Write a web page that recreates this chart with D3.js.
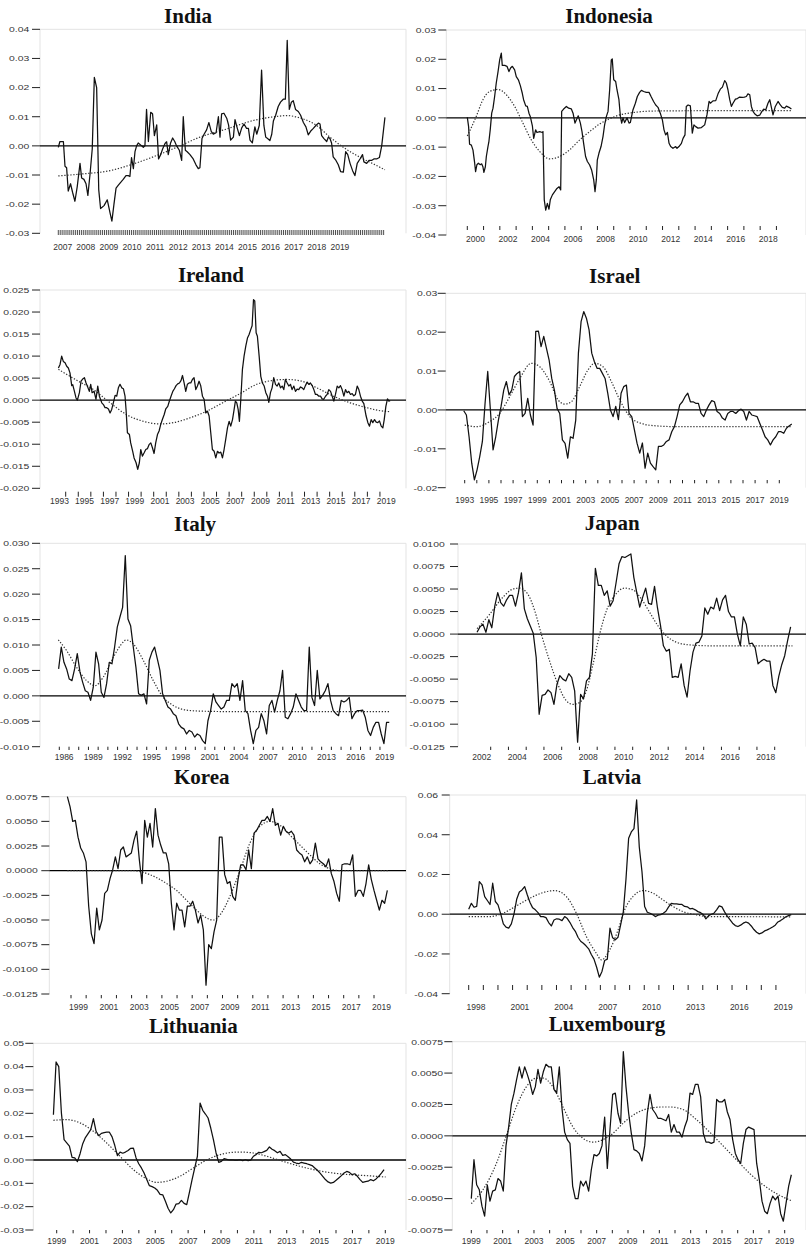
<!DOCTYPE html>
<html>
<head>
<meta charset="utf-8">
<script src="https://cdn.jsdelivr.net/npm/d3@7"></script>
<style>
  html, body { margin: 0; padding: 0; background: #fff; }
  svg { display: block; }
</style>
</head>
<body>
<svg id="chart" width="806" height="1249"></svg>
<script>
// ---------------- India (pairs: year, value) ----------------
const indiaSeries = [[2007.00,-0.0005],[2007.07,0.0015],[2007.22,0.0015],[2007.29,-0.007],[2007.36,-0.0075],[2007.43,-0.0155],[2007.53,-0.013],[2007.62,-0.016],[2007.72,-0.019],[2007.82,-0.014],[2007.94,-0.006],[2008.01,-0.011],[2008.11,-0.0115],[2008.20,-0.013],[2008.28,-0.017],[2008.37,-0.01],[2008.47,-0.001],[2008.56,0.0235],[2008.66,0.020],[2008.75,-0.015],[2008.83,-0.0215],[2008.98,-0.0205],[2009.12,-0.0185],[2009.24,-0.023],[2009.32,-0.0258],[2009.41,-0.02],[2009.50,-0.0145],[2009.60,-0.0135],[2009.70,-0.0125],[2009.81,-0.0115],[2009.93,-0.0102],[2010.03,-0.0102],[2010.10,-0.0105],[2010.17,-0.004],[2010.25,-0.0078],[2010.32,-0.002],[2010.39,0.0],[2010.46,0.001],[2010.61,0.0],[2010.68,-0.0005],[2010.75,0.0],[2010.82,0.0125],[2010.90,0.0015],[2011.00,0.0115],[2011.08,0.011],[2011.16,0.0035],[2011.26,0.0072],[2011.34,-0.0045],[2011.43,-0.003],[2011.52,-0.001],[2011.62,0.0008],[2011.69,0.0014],[2011.76,-0.003],[2011.86,0.001],[2011.95,0.0027],[2012.04,0.0015],[2012.12,0.0],[2012.24,-0.0015],[2012.34,-0.005],[2012.41,0.010],[2012.50,-0.0015],[2012.58,-0.002],[2012.70,-0.003],[2012.84,-0.0045],[2012.96,-0.0065],[2013.06,-0.0078],[2013.13,-0.0075],[2013.22,0.0025],[2013.31,0.004],[2013.42,0.0055],[2013.52,0.008],[2013.62,0.005],[2013.71,0.004],[2013.83,0.0045],[2013.93,0.010],[2014.00,0.003],[2014.07,0.011],[2014.17,0.0112],[2014.29,0.0095],[2014.37,0.0072],[2014.46,0.002],[2014.58,0.003],[2014.65,0.009],[2014.75,0.006],[2014.84,0.0035],[2014.94,0.0062],[2015.04,0.0075],[2015.15,0.006],[2015.23,0.006],[2015.30,0.002],[2015.40,0.001],[2015.51,0.0065],[2015.59,0.004],[2015.70,0.007],[2015.80,0.026],[2015.90,0.007],[2015.98,0.003],[2016.06,0.0025],[2016.16,0.0018],[2016.24,0.004],[2016.31,0.0085],[2016.41,0.0105],[2016.52,0.0135],[2016.62,0.015],[2016.74,0.016],[2016.83,0.016],[2016.91,0.0362],[2017.00,0.0125],[2017.09,0.015],[2017.17,0.0155],[2017.27,0.0125],[2017.39,0.0118],[2017.49,0.0105],[2017.61,0.008],[2017.72,0.0065],[2017.82,0.0038],[2017.92,0.005],[2018.04,0.006],[2018.15,0.007],[2018.26,0.0078],[2018.33,0.0075],[2018.40,0.0035],[2018.50,0.0025],[2018.62,0.0015],[2018.69,0.003],[2018.76,0.0025],[2018.83,0.001],[2018.90,-0.0038],[2019.02,-0.005],[2019.12,-0.0065],[2019.22,-0.0088],[2019.34,-0.009],[2019.44,-0.002],[2019.53,-0.003],[2019.63,-0.006],[2019.74,-0.0085],[2019.84,-0.0102],[2019.94,-0.006],[2020.06,-0.0045],[2020.17,-0.003],[2020.23,-0.0055],[2020.35,-0.006],[2020.45,-0.005],[2020.56,-0.005],[2020.66,-0.0045],[2020.78,-0.0045],[2020.90,-0.004],[2021.00,0.0],[2021.14,0.0098]];
const indiaTrend = [[2007.00,-0.0103],[2008.08,-0.0096],[2009.24,-0.0085],[2010.25,-0.0062],[2011.26,-0.0033],[2012.12,-0.0005],[2013.13,0.003],[2014.29,0.0058],[2015.44,0.0087],[2016.45,0.0101],[2016.88,0.0104],[2017.46,0.0096],[2018.18,0.007],[2018.76,0.003],[2019.34,-0.0005],[2020.06,-0.0039],[2020.64,-0.0062],[2021.14,-0.0082]];
const indiaYTicks = [0.04, 0.03, 0.02, 0.01, 0.00, -0.01, -0.02, -0.03];
const indiaLabels = ["2007","2008","2009","2010","2011","2012","2013","2014","2015","2016","2017","2018","2019"];

// ---------------- Indonesia ----------------
const indonesiaSeries = [[2000.00,0.0002],[2000.08,-0.003],[2000.14,-0.009],[2000.25,-0.0093],[2000.35,-0.011],[2000.45,-0.0153],[2000.51,-0.0184],[2000.59,-0.016],[2000.68,-0.0155],[2000.80,-0.016],[2000.88,-0.0157],[2000.96,-0.0167],[2001.02,-0.0186],[2001.11,-0.0167],[2001.17,-0.0132],[2001.27,-0.0098],[2001.33,-0.008],[2001.41,-0.004],[2001.50,0.0016],[2001.58,0.0033],[2001.68,0.0073],[2001.78,0.0119],[2001.89,0.0158],[2001.99,0.0198],[2002.09,0.0221],[2002.15,0.0179],[2002.30,0.0179],[2002.44,0.0176],[2002.56,0.0158],[2002.66,0.017],[2002.77,0.0176],[2002.91,0.0164],[2003.01,0.0141],[2003.14,0.013],[2003.26,0.011],[2003.38,0.0084],[2003.46,0.0062],[2003.59,0.0041],[2003.69,0.0039],[2003.79,0.0016],[2003.87,0.0005],[2004.00,-0.0027],[2004.08,-0.007],[2004.20,-0.0041],[2004.28,-0.005],[2004.45,-0.0047],[2004.61,-0.005],[2004.65,-0.0047],[2004.73,-0.028],[2004.82,-0.0315],[2004.92,-0.0292],[2005.02,-0.0312],[2005.10,-0.028],[2005.23,-0.0263],[2005.37,-0.0252],[2005.51,-0.0241],[2005.64,-0.0235],[2005.74,-0.0246],[2005.80,0.0022],[2005.92,0.003],[2006.09,0.0039],[2006.23,0.0033],[2006.39,0.0031],[2006.50,0.0016],[2006.62,-0.0018],[2006.70,-0.0007],[2006.82,0.0007],[2006.95,-0.0018],[2007.05,-0.0047],[2007.15,-0.0087],[2007.27,-0.0132],[2007.38,-0.0149],[2007.52,-0.0161],[2007.64,-0.0178],[2007.77,-0.0212],[2007.85,-0.0252],[2007.93,-0.0212],[2007.99,-0.0144],[2008.09,-0.0121],[2008.22,-0.0098],[2008.34,-0.0064],[2008.44,-0.0024],[2008.55,0.0005],[2008.65,0.0022],[2008.75,0.0096],[2008.85,0.0198],[2008.91,0.0201],[2009.00,0.013],[2009.12,0.0124],[2009.20,0.0096],[2009.32,0.0062],[2009.41,0.0005],[2009.49,-0.0018],[2009.57,0.0],[2009.67,-0.0016],[2009.82,0.0],[2009.94,-0.0018],[2010.02,-0.0016],[2010.18,0.0027],[2010.33,0.005],[2010.45,0.0073],[2010.59,0.0087],[2010.70,0.0094],[2010.84,0.009],[2011.00,0.0087],[2011.17,0.0087],[2011.31,0.0071],[2011.45,0.0056],[2011.58,0.0044],[2011.72,0.0036],[2011.86,0.0016],[2011.99,-0.0007],[2012.09,-0.0041],[2012.19,-0.0058],[2012.30,-0.005],[2012.40,-0.0087],[2012.50,-0.0098],[2012.64,-0.0104],[2012.81,-0.0098],[2012.89,-0.0104],[2013.01,-0.0098],[2013.16,-0.0087],[2013.26,-0.007],[2013.38,-0.0058],[2013.46,0.0039],[2013.57,0.0044],[2013.71,0.0041],[2013.83,-0.0052],[2013.93,-0.0024],[2014.04,-0.003],[2014.18,-0.0035],[2014.39,-0.0033],[2014.59,-0.0024],[2014.73,0.001],[2014.86,0.0056],[2014.94,0.005],[2015.10,0.0058],[2015.27,0.0059],[2015.41,0.0082],[2015.55,0.0098],[2015.68,0.0105],[2015.82,0.0127],[2015.92,0.0119],[2016.02,0.0096],[2016.13,0.0062],[2016.23,0.0039],[2016.33,0.005],[2016.48,0.0064],[2016.60,0.0066],[2016.74,0.0071],[2016.89,0.007],[2017.03,0.0071],[2017.15,0.0073],[2017.25,0.0082],[2017.36,0.0079],[2017.46,0.0039],[2017.56,0.0022],[2017.66,0.0014],[2017.81,0.0007],[2017.97,0.0009],[2018.11,0.0022],[2018.22,0.003],[2018.34,0.0027],[2018.48,0.005],[2018.59,0.0062],[2018.69,0.0036],[2018.79,0.001],[2018.93,0.0039],[2019.10,0.0056],[2019.24,0.0044],[2019.36,0.0036],[2019.51,0.0033],[2019.61,0.004],[2019.77,0.0036],[2019.92,0.003]];
const indonesiaTrend = [[2000.00,-0.0062],[2000.55,0.0005],[2000.96,0.0062],[2001.37,0.009],[2001.89,0.0097],[2002.40,0.0079],[2002.91,0.0039],[2003.42,-0.0018],[2003.93,-0.0075],[2004.45,-0.0115],[2005.06,-0.014],[2005.68,-0.0132],[2006.29,-0.0109],[2006.91,-0.0075],[2007.52,-0.0047],[2008.14,-0.0021],[2008.75,-0.0003],[2009.36,0.001],[2010.18,0.0018],[2011.21,0.0023],[2012.44,0.0024],[2019.92,0.0025]];
const indonesiaYTicks = [0.03, 0.02, 0.01, 0.00, -0.01, -0.02, -0.03, -0.04];
const indonesiaLabels = ["2000","2002","2004","2006","2008","2010","2012","2014","2016","2018"];

// ---------------- Ireland ----------------
const irelandSeries = [[1992.42,0.0073],[1992.55,0.0081],[1992.68,0.0100],[1992.81,0.0088],[1992.95,0.0085],[1993.08,0.0077],[1993.21,0.0073],[1993.34,0.0062],[1993.48,0.0033],[1993.56,0.0035],[1993.66,0.0024],[1993.82,0.0005],[1993.93,0.0],[1994.09,0.0017],[1994.22,0.0043],[1994.35,0.0048],[1994.49,0.0051],[1994.62,0.0039],[1994.72,0.0032],[1994.88,0.002],[1994.99,0.0036],[1995.10,0.0017],[1995.26,0.002],[1995.41,0.0002],[1995.55,0.0032],[1995.68,0.0009],[1995.87,-0.0006],[1996.00,-0.001],[1996.13,-0.0017],[1996.26,-0.0017],[1996.40,-0.002],[1996.53,-0.0029],[1996.66,-0.0021],[1996.79,-0.0006],[1996.93,0.0011],[1997.06,0.0009],[1997.19,0.0028],[1997.32,0.0036],[1997.46,0.0028],[1997.59,0.0026],[1997.72,0.0009],[1997.80,-0.0021],[1997.91,-0.0074],[1998.07,-0.0078],[1998.17,-0.0097],[1998.33,-0.0116],[1998.44,-0.0131],[1998.60,-0.0142],[1998.73,-0.0157],[1998.86,-0.0142],[1998.97,-0.0112],[1999.10,-0.0127],[1999.23,-0.012],[1999.37,-0.0112],[1999.50,-0.011],[1999.63,-0.0101],[1999.77,-0.0097],[1999.90,-0.0108],[2000.03,-0.0121],[2000.16,-0.0097],[2000.30,-0.0078],[2000.43,-0.007],[2000.56,-0.0055],[2000.69,-0.0044],[2000.83,-0.0033],[2000.96,-0.002],[2001.12,-0.0014],[2001.25,-0.0002],[2001.38,0.0009],[2001.52,0.002],[2001.65,0.0026],[2001.78,0.0033],[2001.91,0.0037],[2002.05,0.0039],[2002.18,0.0045],[2002.29,0.0056],[2002.42,0.0039],[2002.55,0.002],[2002.68,0.0036],[2002.82,0.0039],[2002.95,0.0039],[2003.08,0.0047],[2003.21,0.0051],[2003.35,0.0024],[2003.48,0.0032],[2003.61,0.0043],[2003.74,0.0033],[2003.88,0.0009],[2004.01,0.0002],[2004.14,-0.0029],[2004.28,-0.0025],[2004.41,-0.0036],[2004.54,-0.0074],[2004.67,-0.0112],[2004.81,-0.0116],[2004.94,-0.0131],[2005.07,-0.0116],[2005.20,-0.012],[2005.34,-0.0118],[2005.47,-0.0131],[2005.60,-0.0112],[2005.73,-0.0089],[2005.87,-0.0063],[2006.00,-0.0048],[2006.13,-0.0059],[2006.27,-0.0044],[2006.40,-0.0021],[2006.50,-0.0002],[2006.61,-0.0006],[2006.72,-0.0021],[2006.82,-0.0048],[2006.93,0.0002],[2007.06,0.007],[2007.19,0.01],[2007.33,0.0123],[2007.46,0.0141],[2007.59,0.0149],[2007.72,0.016],[2007.83,0.0169],[2007.94,0.0228],[2008.04,0.0225],[2008.15,0.0153],[2008.25,0.0145],[2008.39,0.01],[2008.52,0.0054],[2008.65,0.0039],[2008.79,0.0032],[2008.92,0.0017],[2009.05,0.0009],[2009.16,-0.0005],[2009.29,0.0017],[2009.42,0.0028],[2009.55,0.0051],[2009.69,0.0036],[2009.82,0.0032],[2009.95,0.0039],[2010.09,0.0028],[2010.22,0.0032],[2010.35,0.0024],[2010.48,0.0047],[2010.62,0.0039],[2010.75,0.0032],[2010.88,0.0036],[2011.01,0.0024],[2011.15,0.0032],[2011.28,0.002],[2011.41,0.0025],[2011.54,0.0024],[2011.68,0.003],[2011.81,0.0028],[2011.94,0.0024],[2012.07,0.0033],[2012.21,0.0041],[2012.34,0.0036],[2012.47,0.0039],[2012.61,0.0033],[2012.74,0.0024],[2012.87,0.0013],[2013.00,0.0013],[2013.14,0.0009],[2013.27,0.0009],[2013.40,0.0003],[2013.53,0.0002],[2013.67,0.0009],[2013.80,0.0013],[2013.93,0.0024],[2014.07,0.002],[2014.20,0.0009],[2014.33,-0.0002],[2014.46,0.0013],[2014.60,0.0032],[2014.73,0.0028],[2014.86,0.0033],[2014.99,0.0024],[2015.13,0.0009],[2015.26,0.0024],[2015.39,0.0017],[2015.52,0.002],[2015.66,0.0013],[2015.79,0.0015],[2015.92,0.001],[2016.05,0.0013],[2016.19,0.0032],[2016.32,0.0024],[2016.45,0.0009],[2016.59,-0.0002],[2016.72,-0.0008],[2016.80,-0.0021],[2016.90,-0.0036],[2017.04,-0.0051],[2017.17,-0.0059],[2017.30,-0.0044],[2017.43,-0.0051],[2017.57,-0.0044],[2017.70,-0.005],[2017.83,-0.0051],[2017.96,-0.0047],[2018.10,-0.0059],[2018.23,-0.0063],[2018.34,-0.0044],[2018.47,-0.0014],[2018.60,0.0003],[2018.71,-0.0002],[2018.81,-0.0001]];
const irelandTrend = [[1992.42,0.007],[1993.88,0.0045],[1995.20,0.0024],[1996.53,-0.0006],[1997.85,-0.0033],[1999.18,-0.0048],[2000.51,-0.0054],[2001.57,-0.0051],[2002.90,-0.004],[2004.22,-0.0025],[2005.55,-0.0005],[2006.88,0.0015],[2008.20,0.0036],[2009.53,0.0045],[2010.59,0.0047],[2011.65,0.0044],[2012.98,0.0028],[2014.30,0.0009],[2015.63,-0.0006],[2016.96,-0.0017],[2018.02,-0.0024],[2018.81,-0.0026]];
const irelandYTicks = [0.025, 0.020, 0.015, 0.010, 0.005, 0.000, -0.005, -0.010, -0.015, -0.020];
const irelandLabels = ["1993","1995","1997","1999","2001","2003","2005","2007","2009","2011","2013","2015","2017","2019"];

// ---------------- Israel (regular sampling) ----------------
const israelStart = 1992.92, israelStep = 0.2204;
const israelValues = [-0.0002,-0.0013,-0.0069,-0.0137,-0.018,-0.0154,-0.012,-0.0081,0.0017,0.0099,0.0,-0.0103,-0.0069,-0.0026,0.0009,0.0051,0.0073,0.0039,0.0051,0.0086,0.0094,0.0099,-0.0017,-0.0009,0.003,-0.0013,-0.0039,0.0202,0.0203,0.0163,0.0189,0.0159,0.0129,0.0081,0.0051,0.0004,-0.0009,-0.0077,-0.0086,-0.0124,-0.0069,-0.0073,-0.0026,0.0146,0.0227,0.0253,0.0236,0.0206,0.0146,0.0124,0.0107,0.0107,0.0094,0.0081,0.0043,0.0,-0.0017,0.0009,-0.0025,0.0043,0.006,0.0064,-0.0009,-0.0017,-0.0051,-0.0086,-0.0111,-0.0085,-0.015,-0.0111,-0.0137,-0.0146,-0.0154,-0.0094,-0.0094,-0.009,-0.0081,-0.0077,-0.0056,-0.0043,-0.0017,0.0013,0.0021,0.0034,0.0043,0.0021,0.0021,0.0017,0.0017,-0.0009,-0.0017,0.0,0.0013,0.0024,0.0021,-0.0004,-0.0009,-0.0021,-0.0026,-0.0009,-0.0004,-0.0004,-0.0009,-0.0002,0.0002,-0.0004,-0.0026,-0.0004,-0.0013,-0.0015,-0.0017,-0.0034,-0.0051,-0.0069,-0.0077,-0.009,-0.0077,-0.0069,-0.0056,-0.0056,-0.006,-0.0047,-0.0041,-0.0036];
const israelTrend = [[1993.00,-0.0039],[1993.96,-0.0043],[1995.07,-0.003],[1995.89,-0.0009],[1996.72,0.0034],[1997.55,0.0081],[1998.51,0.012],[1999.20,0.0111],[2000.03,0.0073],[2000.71,0.0026],[2001.27,0.0015],[2001.82,0.0021],[2002.50,0.006],[2003.19,0.0103],[2003.74,0.012],[2004.43,0.0111],[2005.12,0.0073],[2005.81,0.0026],[2006.64,-0.0017],[2007.74,-0.0036],[2008.84,-0.0041],[2010.49,-0.0043],[2020.00,-0.0043]];
const israelYTicks = [0.03, 0.02, 0.01, 0.00, -0.01, -0.02];
const israelLabels = ["1993","1995","1997","1999","2001","2003","2005","2007","2009","2011","2013","2015","2017","2019"];

// ---------------- Italy (regular sampling) ----------------
const italyStart = 1985.93, italyStep = 0.2744;
const italyValues = [0.0053,0.0096,0.0066,0.0053,0.0033,0.003,0.0053,0.0083,0.0047,0.0027,0.001,0.0007,-0.0009,0.0017,0.0086,0.0063,0.0007,-0.0003,0.0024,0.0066,0.0063,0.0096,0.0135,0.0155,0.0174,0.0276,0.0151,0.0138,0.0096,0.0056,0.0004,0.0001,0.0004,-0.0016,0.007,0.0086,0.0096,0.0073,0.005,0.0004,-0.0009,-0.0022,-0.0026,-0.0035,-0.0039,-0.0055,-0.0062,-0.0065,-0.0075,-0.0068,-0.0071,-0.0081,-0.0075,-0.0078,-0.0088,-0.0094,-0.0049,-0.0029,0.0004,-0.0012,-0.0019,-0.0026,-0.0022,-0.0009,-0.0009,0.0024,0.0017,0.0024,-0.0009,0.003,-0.0029,-0.0035,-0.0068,-0.0094,-0.0068,-0.0062,-0.0035,-0.0049,-0.0075,-0.0019,-0.0009,-0.0032,-0.0009,0.001,0.005,-0.0042,-0.0045,-0.0035,-0.0022,0.0004,-0.0009,-0.0022,-0.0029,-0.0029,0.0096,-0.0003,-0.0019,0.005,-0.0006,0.0001,0.001,0.0024,-0.0009,-0.0029,-0.0035,-0.0039,-0.0009,-0.0012,-0.0009,-0.0003,-0.0045,-0.0035,-0.0029,-0.0029,-0.0028,-0.0042,-0.0068,-0.0078,-0.0062,-0.0052,-0.0052,-0.0075,-0.0094,-0.0052,-0.0052];
const italyTrend = [[1985.90,0.011],[1986.75,0.0089],[1987.78,0.0056],[1988.81,0.003],[1989.67,0.002],[1990.53,0.0037],[1991.56,0.0076],[1992.59,0.0106],[1992.86,0.011],[1993.62,0.0102],[1994.64,0.007],[1995.67,0.003],[1996.70,-0.0003],[1997.73,-0.0019],[1999.10,-0.0028],[2000.47,-0.003],[2003.91,-0.0031],[2019.96,-0.0031]];
const italyYTicks = [0.030, 0.025, 0.020, 0.015, 0.010, 0.005, 0.000, -0.005, -0.010];
const italyLabels = ["1986","1989","1992","1995","1998","2001","2004","2007","2010","2013","2016","2019"];

// ---------------- Japan (regular sampling, two-monthly) ----------------
const japanStart = 2002.23, japanStep = 1 / 6;
const japanValues = [0.0002,0.0008,0.0011,0.0002,0.0016,0.0007,0.0031,0.0046,0.0035,0.0031,0.0038,0.0043,0.0043,0.0031,0.0046,0.0068,0.0028,0.0017,0.0009,0.0001,-0.0026,-0.0089,-0.0068,-0.0067,-0.0062,-0.0065,-0.0078,-0.0056,-0.0046,-0.005,-0.0052,-0.0044,-0.0048,-0.0063,-0.012,-0.0067,-0.0072,-0.0052,-0.0048,-0.0022,0.0073,0.0054,0.0054,0.0043,0.0048,0.0031,0.0037,0.0057,0.0078,0.0086,0.0085,0.0087,0.0089,0.0063,0.0046,0.003,0.0041,0.0051,0.0034,0.0033,0.0053,0.0029,0.001,-0.0013,-0.0019,-0.0017,-0.0048,-0.0047,-0.0048,-0.0033,-0.0057,-0.007,-0.0041,-0.002,-0.001,-0.0009,-0.0002,0.0029,0.0022,0.003,0.0028,0.004,0.0026,0.0038,0.0043,0.0025,0.0019,0.0019,0.0,-0.0013,0.0019,0.0011,-0.0011,-0.001,-0.0015,-0.0033,-0.003,-0.0028,-0.003,-0.003,-0.0057,-0.0065,-0.0047,-0.0034,-0.0024,-0.0007,0.0008];
const japanTrend = [[2002.23,0.0006],[2002.94,0.0022],[2003.69,0.0041],[2004.26,0.005],[2004.63,0.0051],[2005.10,0.0044],[2005.48,0.0026],[2005.85,0.0],[2006.32,-0.003],[2006.79,-0.0056],[2007.26,-0.0074],[2007.64,-0.0078],[2008.01,-0.0076],[2008.39,-0.0063],[2008.77,-0.0033],[2009.14,0.0],[2009.52,0.0026],[2009.99,0.0043],[2010.55,0.0051],[2011.02,0.0049],[2011.49,0.0039],[2011.96,0.0024],[2012.43,0.0009],[2012.90,-0.0002],[2013.46,-0.0009],[2014.21,-0.0012],[2015.34,-0.0013],[2020.00,-0.0013]];
const japanYTicks = [0.0100, 0.0075, 0.0050, 0.0025, 0.0000, -0.0025, -0.0050, -0.0075, -0.0100, -0.0125];
const japanLabels = ["2002","2004","2006","2008","2010","2012","2014","2016","2018"];

// ---------------- Korea (regular sampling) ----------------
const koreaStart = 1998.76, koreaStep = 0.176;
const koreaValues = [0.0075,0.0065,0.005,0.0051,0.0034,0.0023,0.0018,0.0009,-0.0036,-0.0064,-0.0074,-0.0038,-0.006,-0.005,-0.0023,-0.002,-0.0008,0.0001,0.0014,0.0002,0.0021,0.0024,0.0014,0.0016,0.0018,0.0031,0.004,0.0011,-0.0013,0.0051,0.0034,0.0048,0.0024,0.0063,0.0036,0.0026,0.0018,0.0018,0.0007,-0.0033,-0.006,-0.0033,-0.004,-0.004,-0.0057,-0.0036,-0.0036,-0.0031,-0.004,-0.0053,-0.0045,-0.006,-0.0116,-0.0075,-0.0079,-0.0062,-0.005,0.0034,0.0034,-0.0004,-0.0013,-0.0011,-0.0026,-0.003,-0.0009,0.0006,0.0006,0.0001,0.0021,0.0002,0.0038,0.0041,0.0046,0.0051,0.0051,0.0055,0.005,0.0063,0.0046,0.0048,0.0036,0.0045,0.004,0.0038,0.004,0.0036,0.0021,0.0018,0.0016,0.0009,0.0014,0.0007,0.0011,0.0028,0.0012,0.0009,0.0007,0.0004,0.0012,-0.0003,-0.0011,-0.0023,-0.0031,0.0006,0.0007,0.0007,0.0006,0.0016,-0.0026,-0.002,-0.002,-0.0026,-0.0013,0.0006,-0.0009,-0.002,-0.003,-0.004,-0.003,-0.0033,-0.002];
const koreaTrend = [[1998.76,0.0],[2000.91,0.0],[2003.11,0.0],[2004.21,-0.0004],[2005.31,-0.0013],[2005.97,-0.002],[2006.63,-0.003],[2007.29,-0.004],[2007.95,-0.0048],[2008.39,-0.005],[2008.83,-0.0045],[2009.49,-0.0026],[2010.15,0.0],[2010.81,0.0028],[2011.47,0.0045],[2012.13,0.005],[2012.79,0.0046],[2013.45,0.0036],[2014.11,0.0026],[2014.77,0.0016],[2015.43,0.0007],[2016.09,0.0002],[2016.75,0.0],[2019.94,0.0]];
const koreaYTicks = [0.0075, 0.0050, 0.0025, 0.0000, -0.0025, -0.0050, -0.0075, -0.0100, -0.0125];
const koreaLabels = ["1999","2001","2003","2005","2007","2009","2011","2013","2015","2017","2019"];

// ---------------- Latvia (regular sampling) ----------------
const latviaStart = 1998.0, latviaStep = 0.1822;
const latviaValues = [0.0025,0.0055,0.0035,0.0039,0.0164,0.0148,0.0089,0.0069,0.0049,0.0156,0.0064,0.0047,0.0002,-0.0049,-0.0065,-0.007,-0.0049,0.0002,0.0075,0.0112,0.0122,0.0139,0.0097,0.0059,0.0032,0.0022,0.0008,-0.0012,-0.0012,-0.0017,-0.0042,-0.0059,-0.0029,-0.0023,-0.0025,-0.0032,-0.0012,-0.0022,-0.0042,-0.0067,-0.0086,-0.0116,-0.0136,-0.0146,-0.0159,-0.0174,-0.0203,-0.0226,-0.0267,-0.0317,-0.0288,-0.0233,-0.0226,-0.007,-0.0119,-0.0129,-0.0116,-0.0054,0.0012,0.0176,0.0382,0.0414,0.0431,0.0575,0.0337,0.0215,0.0039,0.001,0.0005,-0.0002,-0.0012,-0.0005,-0.0002,0.0005,0.0015,0.0037,0.0054,0.0052,0.0052,0.0049,0.0049,0.0039,0.0037,0.0027,0.0029,0.0022,0.0013,0.0008,-0.0002,-0.0023,-0.0007,0.0,0.0005,0.0022,0.0042,0.0037,0.0012,-0.001,-0.0027,-0.0045,-0.0057,-0.0062,-0.0055,-0.0045,-0.0039,-0.0045,-0.0059,-0.0077,-0.0091,-0.0099,-0.0094,-0.0084,-0.0079,-0.0072,-0.0064,-0.0055,-0.0039,-0.0032,-0.0023,-0.0013,-0.0007,-0.0002];
const latviaTrend = [[1998.00,-0.0012],[1999.44,-0.0012],[2000.35,0.0005],[2001.26,0.0042],[2002.17,0.008],[2003.08,0.0109],[2003.88,0.0119],[2004.67,0.0089],[2005.36,0.0005],[2006.04,-0.0112],[2006.72,-0.0196],[2007.07,-0.023],[2007.64,-0.0179],[2008.21,-0.0079],[2008.66,0.0022],[2009.23,0.0089],[2009.91,0.0119],[2010.60,0.0106],[2011.28,0.0072],[2011.96,0.0039],[2012.65,0.0013],[2013.56,-0.0003],[2014.47,-0.0012],[2020.05,-0.0013]];
const latviaYTicks = [0.06, 0.04, 0.02, 0.00, -0.02, -0.04];
const latviaLabels = ["1998","2001","2004","2007","2010","2013","2016","2019"];

// ---------------- Lithuania (regular sampling) ----------------
const lithuaniaStart = 1998.80, lithuaniaStep = 0.1623;
const lithuaniaValues = [0.0194,0.042,0.040,0.0201,0.0087,0.0073,0.0059,0.0011,0.0009,-0.0007,0.0027,0.007,0.0096,0.0113,0.013,0.0177,0.0123,0.0104,0.0114,0.0117,0.0119,0.0119,0.0099,0.0063,0.0019,0.0034,0.0029,0.0034,0.0041,0.005,0.0051,0.0009,-0.0016,-0.0034,-0.0056,-0.0084,-0.011,-0.0114,-0.012,-0.013,-0.0147,-0.0149,-0.0177,-0.0207,-0.0227,-0.0213,-0.0189,-0.0187,-0.0173,-0.0186,-0.0191,-0.0139,-0.0084,-0.0034,0.0016,0.0244,0.0213,0.0197,0.018,0.0137,0.0087,0.003,-0.001,-0.0006,0.0006,0.0003,0.0,0.0001,-0.0001,-0.0001,0.0001,-0.0003,0.0001,-0.0003,-0.0001,0.0016,0.0023,0.0033,0.0031,0.0036,0.0041,0.0056,0.0046,0.004,0.0031,0.0037,0.002,0.0023,0.0014,0.0004,-0.0009,-0.0013,-0.0016,-0.001,-0.0013,-0.0016,-0.002,-0.0024,-0.0034,-0.0044,-0.0056,-0.007,-0.0084,-0.0094,-0.0099,-0.0096,-0.0087,-0.0077,-0.0067,-0.0056,-0.0049,-0.0053,-0.0063,-0.0059,-0.007,-0.0084,-0.0096,-0.0093,-0.0091,-0.0084,-0.0089,-0.0081,-0.007,-0.0056,-0.0041];
const lithuaniaTrend = [[1998.80,0.017],[1999.61,0.0173],[2000.42,0.0159],[2001.23,0.0123],[2002.04,0.0073],[2002.85,0.0016],[2003.66,-0.0041],[2004.48,-0.0081],[2005.09,-0.0096],[2005.69,-0.0091],[2006.50,-0.007],[2007.32,-0.0034],[2008.13,0.0],[2008.94,0.0023],[2009.75,0.0033],[2010.15,0.0034],[2010.97,0.003],[2011.78,0.0016],[2012.79,-0.0006],[2013.80,-0.0027],[2014.82,-0.0044],[2015.83,-0.0056],[2016.85,-0.0063],[2017.86,-0.0067],[2019.02,-0.0073]];
const lithuaniaYTicks = [0.05, 0.04, 0.03, 0.02, 0.01, 0.00, -0.01, -0.02, -0.03];
const lithuaniaLabels = ["1999","2001","2003","2005","2007","2009","2011","2013","2015","2017","2019"];

// ---------------- Luxembourg (regular sampling) ----------------
const luxembourgStart = 1999.0, luxembourgStep = 0.1702;
const luxembourgValues = [-0.005,-0.0019,-0.0039,-0.0043,-0.0056,-0.0064,-0.0039,-0.0052,-0.0044,-0.0043,-0.0034,-0.0036,-0.0044,-0.0008,0.0007,0.0025,0.0034,0.0045,0.0055,0.0046,0.0055,0.0049,0.0042,0.0033,0.0039,0.0053,0.0042,0.0051,0.0057,0.0055,0.0055,0.0037,0.0034,0.0055,0.0022,0.0003,-0.0003,-0.0006,-0.004,-0.005,-0.005,-0.0036,-0.004,-0.0036,-0.0044,-0.0027,-0.0015,-0.0016,-0.0014,-0.0008,0.0015,-0.0026,0.0005,0.0033,0.0034,0.0018,0.001,0.0067,0.0039,0.0018,0.0002,-0.0011,-0.0012,-0.0014,-0.002,-0.0008,0.0018,0.0033,0.0021,0.0018,0.0014,0.0014,0.0013,0.0012,0.0017,0.0003,0.0009,0.0003,0.0003,-0.0001,0.0007,0.0013,0.0034,0.0033,0.0041,0.0041,0.0031,0.0002,-0.0005,-0.0005,-0.0006,-0.0005,0.0029,0.0027,0.0027,0.0029,0.0019,0.0013,-0.0003,-0.0014,-0.0019,-0.0022,-0.0006,0.0005,0.0007,0.0006,0.0005,-0.0022,-0.0035,-0.0052,-0.006,-0.0062,-0.0054,-0.0048,-0.0051,-0.0048,-0.0062,-0.0068,-0.0054,-0.004,-0.0031];
const luxembourgTrend = [[1999.00,-0.0054],[1999.74,-0.0043],[2000.60,-0.0022],[2001.23,0.0],[2001.87,0.0023],[2002.51,0.0039],[2003.15,0.0046],[2003.57,0.0046],[2004.21,0.0039],[2004.85,0.0023],[2005.49,0.0007],[2006.13,-0.0002],[2006.77,-0.0005],[2007.41,-0.0003],[2008.04,0.0002],[2008.68,0.001],[2009.53,0.0018],[2010.38,0.0022],[2011.24,0.0023],[2011.66,0.0023],[2012.51,0.0021],[2013.36,0.0013],[2014.21,0.0003],[2015.07,-0.0008],[2015.92,-0.0019],[2016.77,-0.003],[2017.62,-0.0039],[2018.47,-0.0046],[2019.49,-0.0052]];
const luxembourgYTicks = [0.0075, 0.0050, 0.0025, 0.0000, -0.0025, -0.0050, -0.0075];
const luxembourgLabels = ["1999","2001","2003","2005","2007","2009","2011","2013","2015","2017","2019"];

// Turn a regularly sampled series into (year, value) pairs.
const regular = (start, step, values) => values.map((v, i) => [start + i * step, v]);

// ---------------- panel layout ----------------
const panels = [
  { title: "India", series: indiaSeries, trend: indiaTrend, yTicks: indiaYTicks, digits: 2, labels: indiaLabels,
    titleX: 188, titleY: 23, left: 40, right: 406, yTop: 29.3, yBot: 233.3, tA: 2007, xA: 58.3, ppy: 23.1,
    ticks: d3.range(0, 170).map(m => 2007 + m / 12), tickY: [230, 235], tickW: 0.8, labelY: 250, labelShift: 0.19, gap: 10.7 },
  { title: "Indonesia", series: indonesiaSeries, trend: indonesiaTrend, yTicks: indonesiaYTicks, digits: 2, labels: indonesiaLabels,
    titleX: 609, titleY: 23, left: 446.3, right: 806, yTop: 30, yBot: 235, tA: 2000, xA: 467.3, ppy: 16.27,
    ticks: d3.range(2000, 2020), tickY: [226, 230], labelY: 242, labelShift: 0.5, gap: 10.3 },
  { title: "Ireland", series: irelandSeries, trend: irelandTrend, yTicks: irelandYTicks, digits: 3, labels: irelandLabels,
    titleX: 211, titleY: 282, left: 40, right: 406, yTop: 290, yBot: 488.3, tA: 1993, xA: 65.7, ppy: 12.57,
    ticks: d3.range(1993, 2019), tickY: [491.7, 496.7], labelY: 504, labelShift: -0.5, gap: 10.7 },
  { title: "Israel", series: regular(israelStart, israelStep, israelValues), trend: israelTrend, yTicks: israelYTicks, digits: 2, labels: israelLabels,
    titleX: 614.7, titleY: 283, left: 445.7, right: 806, yTop: 293.3, yBot: 487.7, tA: 1993, xA: 464.7, ppy: 12.1,
    ticks: d3.range(1993, 2020), tickY: [480, 483.3], labelY: 503, labelShift: 0, gap: 8.4 },
  { title: "Italy", series: regular(italyStart, italyStep, italyValues), trend: italyTrend, yTicks: italyYTicks, digits: 3, labels: italyLabels,
    titleX: 195, titleY: 531, left: 40, right: 406, yTop: 543.3, yBot: 746.7, tA: 1986, xA: 59.3, ppy: 9.717,
    ticks: d3.range(1986, 2020), tickY: [746.7, 750], labelY: 760, labelShift: 0.5, gap: 10.7 },
  { title: "Japan", series: regular(japanStart, japanStep, japanValues), trend: japanTrend, yTicks: japanYTicks, digits: 4, labels: japanLabels,
    titleX: 612.3, titleY: 529.5, left: 458, right: 806, yTop: 544, yBot: 746.7, tA: 2003, xA: 490.7, ppy: 17.75,
    ticks: d3.range(2003, 2020), tickY: [746.7, 750], labelY: 760, labelShift: 0.5, gap: 13.3 },
  { title: "Korea", series: regular(koreaStart, koreaStep, koreaValues), trend: koreaTrend, yTicks: koreaYTicks, digits: 4, labels: koreaLabels,
    titleX: 201.7, titleY: 784, left: 49.3, right: 406, yTop: 796.7, yBot: 994, tA: 1999, xA: 71, ppy: 15.15,
    ticks: d3.range(1999, 2020), tickY: [995, 998.3], labelY: 1010, labelShift: 0.5, gap: 11.6 },
  { title: "Latvia", series: regular(latviaStart, latviaStep, latviaValues), trend: latviaTrend, yTicks: latviaYTicks, digits: 2, labels: latviaLabels,
    titleX: 612, titleY: 784, left: 449.7, right: 806, yTop: 795, yBot: 993.7, tA: 1998, xA: 468.7, ppy: 14.63,
    ticks: d3.range(1998, 2020), tickY: [985, 990], labelY: 1010, labelShift: 0.5, gap: 11.7 },
  { title: "Lithuania", series: regular(lithuaniaStart, lithuaniaStep, lithuaniaValues), trend: lithuaniaTrend, yTicks: lithuaniaYTicks, digits: 2, labels: lithuaniaLabels,
    titleX: 193.3, titleY: 1032.5, left: 33.3, right: 406, yTop: 1043.3, yBot: 1230, tA: 1999, xA: 56.7, ppy: 16.43,
    ticks: d3.range(1999, 2020), tickY: [1230, 1233.3], labelY: 1243.5, labelShift: 0, gap: 9.3 },
  { title: "Luxembourg", series: regular(luxembourgStart, luxembourgStep, luxembourgValues), trend: luxembourgTrend, yTicks: luxembourgYTicks, digits: 4, labels: luxembourgLabels,
    titleX: 607, titleY: 1030.5, left: 452.3, right: 806, yTop: 1041.7, yBot: 1230, tA: 1999, xA: 471.3, ppy: 15.67,
    ticks: d3.range(1999, 2020), tickY: [1230, 1233.3], labelY: 1243.5, labelShift: 0, gap: 9.3 }
];

const svg = d3.select("#chart");
svg.append("rect").attr("width", 806).attr("height", 1249).attr("fill", "#fff");

panels.forEach(p => {
  const g = svg.append("g").attr("class", "panel");
  const y = d3.scaleLinear()
    .domain([p.yTicks[0], p.yTicks[p.yTicks.length - 1]])
    .range([p.yTop, p.yBot]);
  const x = d3.scaleLinear().domain([p.tA, p.tA + 1]).range([p.xA, p.xA + p.ppy]);

  // light frame around the plotting region
  g.append("path")
    .attr("d", `M${p.left},${p.yBot}V${p.yTop}H${p.right}V${p.yBot}`)
    .attr("fill", "none").attr("stroke", "#e3e3e3").attr("stroke-width", 1);

  // y axis ticks and labels (the value labels are set in a wide, stretched face)
  g.selectAll("line.ytick").data(p.yTicks).join("line")
    .attr("x1", p.left - 8).attr("x2", p.left)
    .attr("y1", d => y(d)).attr("y2", d => y(d))
    .attr("stroke", "#222").attr("stroke-width", 1);
  g.selectAll("text.ylab").data(p.yTicks).join("text")
    .attr("transform", d => `translate(${p.left - p.gap},${y(d)}) scale(1.3,1)`)
    .attr("dy", "0.35em")
    .attr("text-anchor", "end")
    .attr("font-family", "Liberation Sans, Arial, sans-serif").attr("font-size", 8)
    .attr("fill", "#333")
    .text(d => d.toFixed(p.digits));

  // x axis ticks and year labels
  g.selectAll("line.xtick").data(p.ticks).join("line")
    .attr("x1", d => x(d)).attr("x2", d => x(d))
    .attr("y1", p.tickY[0]).attr("y2", p.tickY[1])
    .attr("stroke", "#222").attr("stroke-width", p.tickW || 1);
  g.selectAll("text.xlab").data(p.labels).join("text")
    .attr("x", d => x(+d + p.labelShift)).attr("y", p.labelY)
    .attr("text-anchor", "middle")
    .attr("font-family", "Liberation Sans, Arial, sans-serif").attr("font-size", 8.5)
    .attr("fill", "#333")
    .text(d => d);

  // zero reference line
  g.append("line")
    .attr("x1", p.left).attr("x2", p.right)
    .attr("y1", y(0)).attr("y2", y(0))
    .attr("stroke", "#000").attr("stroke-width", 1.3);

  const line = d3.line().x(d => x(d[0])).y(d => y(d[1]));
  const smooth = d3.line().x(d => x(d[0])).y(d => y(d[1])).curve(d3.curveMonotoneX);

  // fitted trend (dotted)
  g.append("path").datum(p.trend)
    .attr("d", smooth)
    .attr("fill", "none").attr("stroke", "#333").attr("stroke-width", 1.2)
    .attr("stroke-dasharray", "1.3,1.7");

  // observed series
  g.append("path").datum(p.series)
    .attr("d", line)
    .attr("fill", "none").attr("stroke", "#111").attr("stroke-width", 1.25)
    .attr("stroke-linejoin", "round");

  // panel title
  g.append("text")
    .attr("x", p.titleX).attr("y", p.titleY)
    .attr("text-anchor", "middle")
    .attr("font-family", "Liberation Serif, Times New Roman, serif")
    .attr("font-weight", "bold").attr("font-size", 21)
    .attr("fill", "#111")
    .text(p.title);
});
</script>
</body>
</html>
